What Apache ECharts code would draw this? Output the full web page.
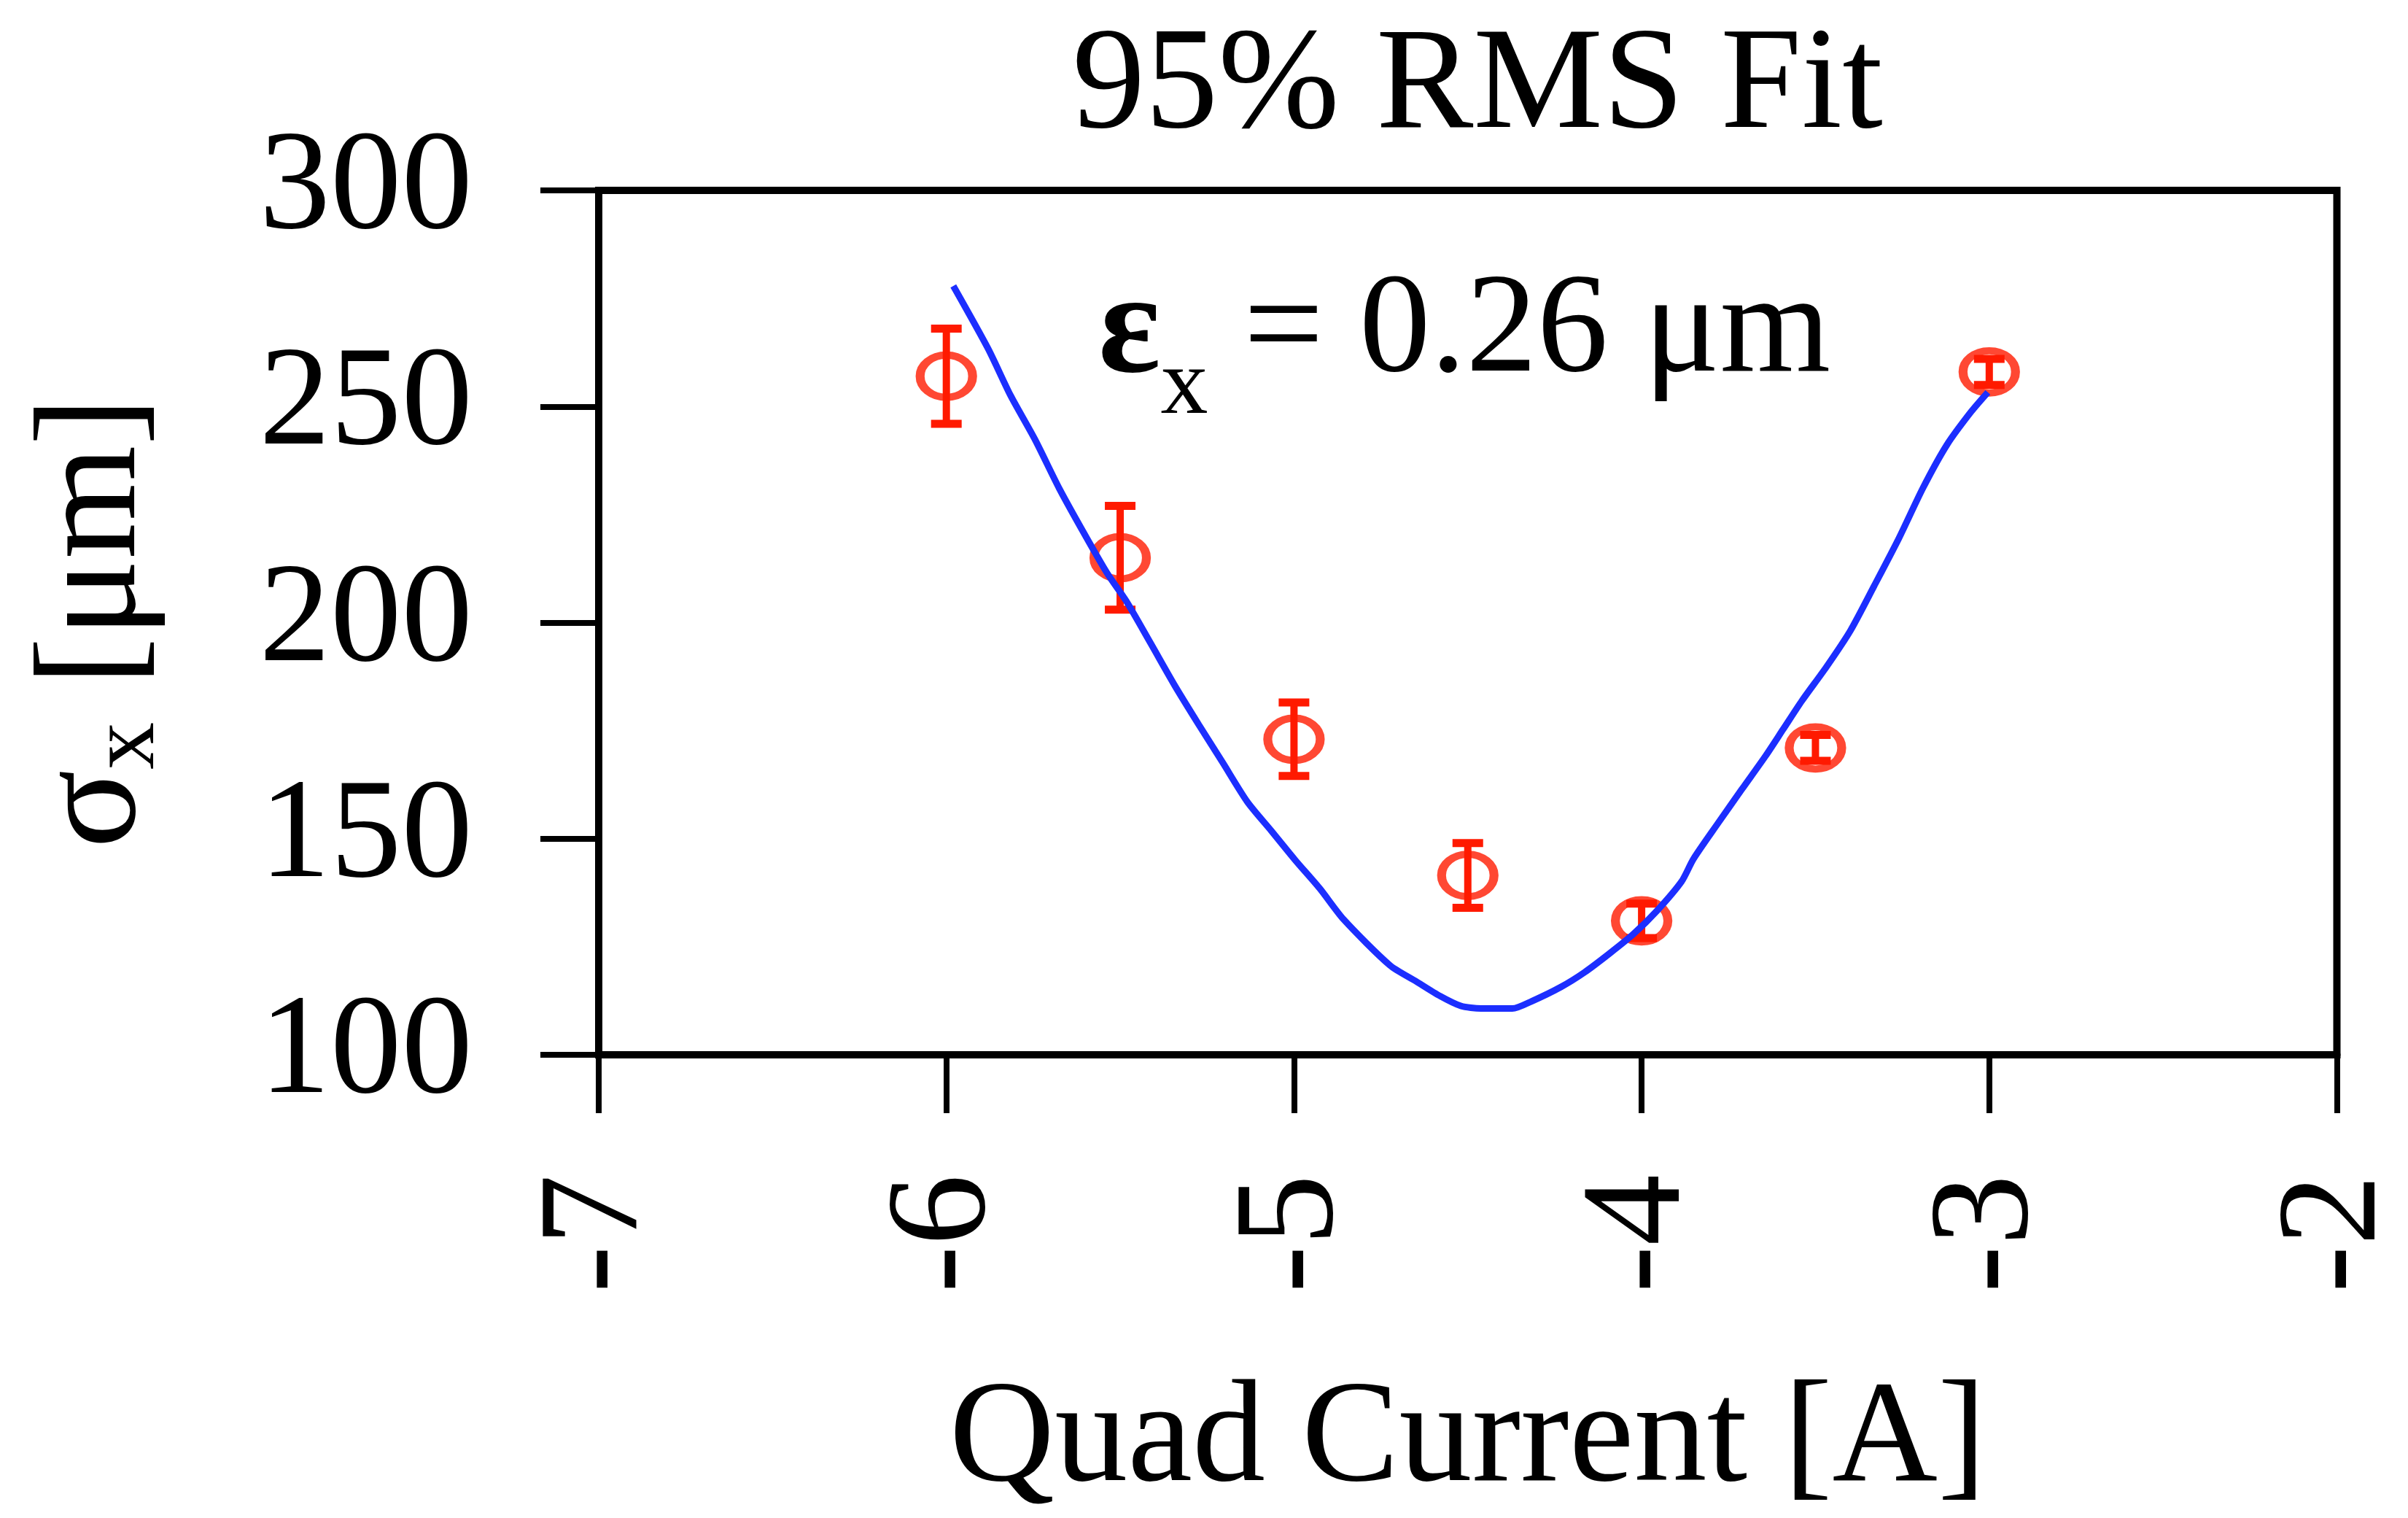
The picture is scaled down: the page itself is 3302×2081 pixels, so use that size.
<!DOCTYPE html>
<html>
<head>
<meta charset="utf-8">
<script src="https://cdn.jsdelivr.net/npm/echarts@6/dist/echarts.min.js"></script>
<style>
html,body{margin:0;padding:0;background:#fff;}
#chart{width:3302px;height:2081px;}
</style>
</head>
<body>
<div id="chart"></div>
<script>
// ---- data ----
const titleText = '95% RMS Fit';
const xAxisName = 'Quad Current [A]';
const xTicks = [-7, -6, -5, -4, -3, -2];
const yTicks = [100, 150, 200, 250, 300];

// measured beam size points
const quadCurrent = [-6, -5.5, -5, -4.5, -4, -3.5, -3];
const sigmaX      = [257, 215, 173, 141.5, 131, 171, 258];
const sigmaErr    = [11, 12, 8.5, 7.5, 4, 3, 3];

// fitted curve
const fitCurrent = [-5.98, -5.88, -5.815, -5.746, -5.675, -5.607, -5.538, -5.482, -5.413, -5.342, -5.274, -5.205, -5.134, -5.065, -4.997, -4.926, -4.857, -4.724, -4.649, -4.58, -4.52, -4.462, -4.372, -4.316, -4.232, -4.164, -4.093, -4.024, -3.955, -3.885, -3.851, -3.781, -3.712, -3.643, -3.593, -3.539, -3.468, -3.399, -3.331, -3.26, -3.191, -3.122, -3.052, -3.004];
const fitSigma   = [277.9, 263.4, 252.5, 242.5, 231.0, 221.1, 211.5, 204.9, 195.3, 185.3, 176.4, 167.6, 158.5, 151.8, 145.1, 138.5, 131.3, 120.7, 117.0, 113.6, 111.3, 110.7, 110.7, 112.4, 115.7, 119.1, 123.4, 127.9, 133.4, 140.1, 145.3, 153.5, 161.4, 169.2, 175.3, 181.9, 189.8, 198.2, 208.5, 219.5, 231.1, 241.1, 248.8, 253.3];

// ---- build chart ----
const RED = '#ff1a00';
const BLUE = '#1c2eff';
const FONT = '"Liberation Serif", "Times New Roman", serif';

const points = quadCurrent.map((x, i) => [x, sigmaX[i]]);
const bars = quadCurrent.map((x, i) => [x, sigmaX[i] - sigmaErr[i], sigmaX[i] + sigmaErr[i]]);
const fit = fitCurrent.map((x, i) => [x, fitSigma[i]]);

const chart = echarts.init(document.getElementById('chart'), null, {renderer: 'canvas'});
chart.setOption({
  animation: false,
  backgroundColor: '#fff',
  title: {
    text: titleText,
    left: 2021,
    top: 16,
    textAlign: 'center',
    textStyle: {fontFamily: FONT, fontSize: 200, fontWeight: 'normal', color: '#000'}
  },
  grid: {
    left: 821, top: 261, width: 2401, height: 1196,
    show: true, borderColor: '#000', borderWidth: 10, backgroundColor: 'transparent'
  },
  xAxis: {
    type: 'value',
    min: xTicks[0], max: xTicks[xTicks.length - 1], interval: 1,
    name: xAxisName,
    nameLocation: 'middle',
    nameGap: 430,
    nameTextStyle: {fontFamily: FONT, fontSize: 200, color: '#000'},
    axisLine: {show: true, onZero: false, lineStyle: {color: '#000', width: 10}},
    axisTick: {show: true, length: 80, inside: false, lineStyle: {color: '#000', width: 8}},
    axisLabel: {rotate: 90, margin: 164, padding: [34, 0, 0, 0], fontFamily: FONT, fontSize: 195, color: '#000'},
    splitLine: {show: false}
  },
  yAxis: {
    type: 'value',
    min: yTicks[0], max: yTicks[yTicks.length - 1], interval: 50,
    name: '{s|σ}{sub|x}{s| [μm]}',
    nameLocation: 'middle',
    nameGap: 580,
    nameTextStyle: {
      fontFamily: FONT, fontSize: 200, color: '#000',
      rich: {
        s: {fontFamily: FONT, fontSize: 200, color: '#000'},
        sub: {fontFamily: FONT, fontSize: 130, color: '#000', padding: [90, 0, 0, 0]}
      }
    },
    axisLine: {show: true, onZero: false, lineStyle: {color: '#000', width: 10}},
    axisTick: {show: true, length: 80, inside: false, lineStyle: {color: '#000', width: 8}},
    axisLabel: {margin: 173, padding: [40, 0, 0, 0], fontFamily: FONT, fontSize: 195, color: '#000'},
    splitLine: {show: false}
  },
  graphic: [{
    type: 'text',
    left: 1506,
    top: 357,
    style: {
      text: '{e|ε}{sub|x}{m| = 0.26 μm}',
      rich: {
        e: {fontFamily: FONT, fontSize: 200, fontWeight: 'bold', fill: '#000'},
        sub: {fontFamily: FONT, fontSize: 130, fill: '#000', padding: [150, 0, 0, 0]},
        m: {fontFamily: FONT, fontSize: 195, fill: '#000'}
      }
    },
    z: 10
  }],
  series: [
    {
      type: 'custom',
      name: 'error',
      data: bars,
      encode: {x: 0, y: [1, 2]},
      z: 2,
      renderItem: function (params, api) {
        const x = api.value(0);
        const lo = api.coord([x, api.value(1)]);
        const hi = api.coord([x, api.value(2)]);
        const cap = 21;
        const st = {stroke: RED, lineWidth: 10};
        return {
          type: 'group',
          children: [
            {type: 'line', shape: {x1: lo[0], y1: lo[1], x2: hi[0], y2: hi[1]}, style: st},
            {type: 'line', shape: {x1: hi[0] - cap, y1: hi[1], x2: hi[0] + cap, y2: hi[1]}, style: {stroke: RED, lineWidth: 11}},
            {type: 'line', shape: {x1: lo[0] - cap, y1: lo[1], x2: lo[0] + cap, y2: lo[1]}, style: {stroke: RED, lineWidth: 11}}
          ]
        };
      }
    },
    {
      type: 'scatter',
      name: 'data',
      data: points,
      symbol: 'circle',
      symbolSize: [72, 58],
      itemStyle: {color: 'rgba(0,0,0,0)', borderColor: RED, borderWidth: 11},
      z: 3
    },
    {
      type: 'line',
      name: 'fit',
      data: fit,
      showSymbol: false,
      symbol: 'none',
      smooth: 0.25,
      lineStyle: {color: BLUE, width: 9},
      z: 4
    }
  ]
});
</script>
</body>
</html>
